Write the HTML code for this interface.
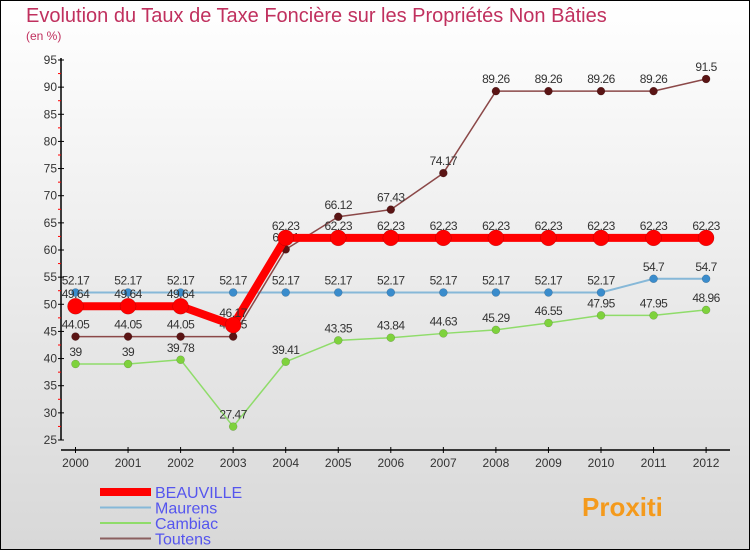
<!DOCTYPE html>
<html><head><meta charset="utf-8"><style>
body{margin:0}
#c{width:750px;height:550px;position:relative;box-sizing:border-box;border:1px solid #000;background:linear-gradient(#fff,#d8d8d8);font-family:"Liberation Sans",sans-serif;overflow:hidden}
</style></head><body>
<div id="c">
<svg id="s" width="750" height="550" style="position:absolute;left:-1px;top:-1px">
<text x="26" y="22" font-size="20" fill="#c0305e">Evolution du Taux de Taxe Foncière sur les Propriétés Non Bâties</text>
<text x="26" y="40" font-size="12" fill="#c0305e">(en %)</text>
</svg>
</div>
<script>
const years=["2000","2001","2002","2003","2004","2005","2006","2007","2008","2009","2010","2011","2012"];
const beauville=[49.64,49.64,49.64,46.17,62.23,62.23,62.23,62.23,62.23,62.23,62.23,62.23,62.23];
const maurens=[52.17,52.17,52.17,52.17,52.17,52.17,52.17,52.17,52.17,52.17,52.17,54.7,54.7];
const cambiac=[39,39,39.78,27.47,39.41,43.35,43.84,44.63,45.29,46.55,47.95,47.95,48.96];
const toutens=[44.05,44.05,44.05,44.05,60.11,66.12,67.43,74.17,89.26,89.26,89.26,89.26,91.5];
const yTicks=[25,30,35,40,45,50,55,60,65,70,75,80,85,90,95];
const NS="http://www.w3.org/2000/svg";
const svg=document.getElementById('s');
const X=i=>75.5+i*52.55;
const Y=v=>440-(v-25)*(380/70);
function mk(t,a,p){const e=document.createElementNS(NS,t);for(const k in a)e.setAttribute(k,a[k]);(p||svg).appendChild(e);return e;}
let ax=mk('line',{x1:61,y1:58,x2:61,y2:440,stroke:'#000','stroke-width':1.5});


let bx=mk('line',{x1:61,y1:450,x2:730,y2:450,stroke:'#000','stroke-width':1.5});


yTicks.forEach(v=>{
 mk('line',{x1:58,x2:64,y1:Y(v),y2:Y(v),stroke:'#000'});
 if(v<95)mk('line',{x1:58,x2:61,y1:Y(v+2.5),y2:Y(v+2.5),stroke:'#f00'});
 const t=mk('text',{x:57,y:Y(v)+4,'font-size':12,'text-anchor':'end',fill:'#333'});t.textContent=v;
 
 
});
years.forEach((y,i)=>{
 mk('line',{x1:X(i),x2:X(i),y1:447,y2:453,stroke:'#000'});
 const t=mk('text',{x:X(i),y:467,'font-size':12,'text-anchor':'middle',fill:'#333'});t.textContent=y;
 
 
});
function series(d,col,w,r,dot,name){
 const g=mk('g',{});
 
 
 mk('polyline',{points:d.map((v,i)=>X(i)+','+Y(v)).join(' '),fill:'none',stroke:col,'stroke-width':w,'stroke-linejoin':'round'},g);
 d.forEach((v,i)=>{
  const c=mk('circle',{cx:X(i),cy:Y(v),r:r,fill:dot,stroke:'rgba(0,0,0,0.25)','stroke-width':0.5},g);
  
  
  const t=mk('text',{x:X(i),y:Y(v)-8,'font-size':12,'text-anchor':'middle',fill:'#333','letter-spacing':'-0.5'},g);t.textContent=v;
 });
}
series(cambiac,'#8fdc6a',1.5,4,'#7ed23c','cambiac');
series(maurens,'#86b8d8',2,4,'#3a8ccc','maurens');
series(toutens,'#8b4848',1.5,4,'#5a1414','toutens');
series(beauville,'#f00',8,8,'#f00','beauville');
const leg=[["BEAUVILLE","#f00",8],["Maurens","#86b8d8",2],["Cambiac","#8fdc6a",2],["Toutens","#8b6060",2]];
leg.forEach((l,i)=>{
 const y=492+i*15.5;
 const g=mk('g',{});
 
 
 mk('line',{x1:100,x2:151,y1:y,y2:y,stroke:l[1],'stroke-width':l[2]},g);
 const t=mk('text',{x:155,y:y+6,'font-size':16,fill:'#5555ee'},g);t.textContent=l[0];
});
const p=mk('text',{x:582,y:516,'font-size':26,'font-weight':'bold',fill:'#f49a1c'});
p.textContent='Proxiti';


</script>
</body></html>
